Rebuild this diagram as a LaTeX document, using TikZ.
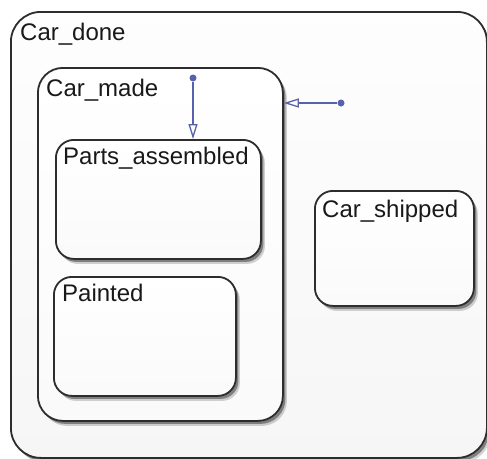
\documentclass[tikz,border=0pt]{standalone}
\usepackage{fontspec}
\setmainfont{Liberation Sans}
\usetikzlibrary{arrows.meta,shadows,positioning}

\definecolor{transblue}{RGB}{88,98,170}
\definecolor{stateline}{RGB}{45,45,45}

\tikzstyle{state} = [rectangle, draw=stateline, line width=1.8pt, anchor=north west, inner sep=0pt, top color=white, bottom color=gray!4, drop shadow={shadow xshift=4pt,shadow yshift=-5pt,opacity=0.12,top color=black,bottom color=black}, drop shadow={shadow xshift=2.5pt,shadow yshift=-3pt,opacity=0.3,top color=black,bottom color=black}]
\tikzstyle{statename} = [anchor=base west, inner sep=0pt, font=\fontsize{24}{28}\selectfont, text=black!90]
\tikzstyle{junction} = [circle, fill=transblue, inner sep=0pt, minimum size=7pt]
\tikzstyle{transition} = [draw=transblue, line width=1.3pt, -{Triangle[open,length=15pt,width=9pt]}]

\begin{document}
\begin{tikzpicture}[x=1pt,y=-1pt]
	\useasboundingbox (0,0) rectangle (487,458);

	\node[state, rounded corners=30pt, minimum width=476pt, minimum height=446pt, top color=gray!1, bottom color=gray!7] (done) at (10,11) {};
	\node[state, rounded corners=25pt, minimum width=245pt, minimum height=353pt] (made) at (37,67) {};
	\node[state, rounded corners=18pt, minimum width=205pt, minimum height=119pt] (parts) at (55,139) {};
	\node[state, rounded corners=18pt, minimum width=182pt, minimum height=119pt] (painted) at (53,276) {};
	\node[state, rounded corners=18pt, minimum width=159pt, minimum height=115pt] (shipped) at (314,190) {};

	\node[statename] (donename) at ([xshift=10pt,yshift=-29pt]done.north west) {Car\_done};
	\node[statename] (madename) at ([xshift=9pt,yshift=-29pt]made.north west) {Car\_made};
	\node[statename] (partsname) at ([xshift=8pt,yshift=-25pt]parts.north west) {Parts\_assembled};
	\node[statename] (paintedname) at ([xshift=9pt,yshift=-25pt]painted.north west) {Painted};
	\node[statename] (shippedname) at ([xshift=8pt,yshift=-27pt]shipped.north west) {Car\_shipped};

	\node[junction] (start1) at (193,78) {};
	\node[junction] (start2) at (341,103) {};

	\draw[transition] (start1) -- (start1 |- parts.north);
	\draw[transition] (start2) -- (start2 -| made.east);
\end{tikzpicture}
\end{document}
